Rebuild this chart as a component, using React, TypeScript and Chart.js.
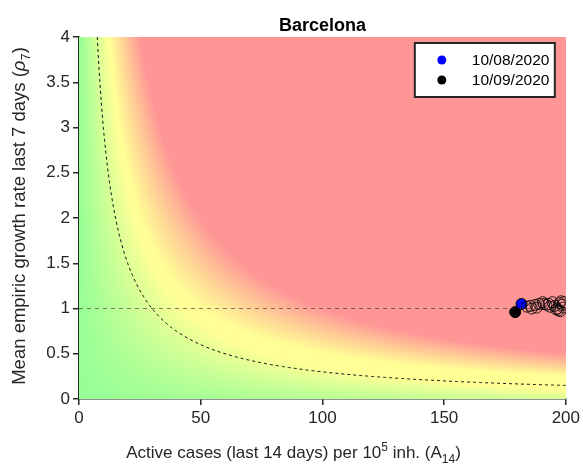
import React, { useEffect, useRef } from "react";
import { Chart, registerables } from "chart.js";

Chart.register(...registerables);

// ---- data ----
const TITLE = "Barcelona";
// axis titles as rich-text segments (n = normal, sup = superscript, sub = subscript, it = italic)
const X_TITLE: [string, string][] = [
  ["n", "Active cases (last 14 days) per 10"],
  ["sup", "5"],
  ["n", " inh. (A"],
  ["sub", "14"],
  ["n", ")"],
];
const Y_TITLE: [string, string][] = [
  ["n", "Mean empiric growth rate last 7 days ("],
  ["it", "ρ"],
  ["sub", "7"],
  ["n", ")"],
];
const X_TICKS = [0, 50, 100, 150, 200];
const Y_TICKS = [0, 0.5, 1, 1.5, 2, 2.5, 3, 3.5, 4];
const EPG_CONTOUR = 30; // dashed iso-risk curve rho*A = 30
const REF_RHO = 1;

// trajectory (open circles)
const trajA = [184, 186, 187.5, 189, 190.5, 192, 193, 194.5, 195.5, 196.5, 197, 197.5, 198, 198.5, 199, 196, 193.5, 191, 188, 185.5, 197.8, 199.2];
const trajRho = [1.02, 1.0, 1.04, 1.05, 1.07, 1.04, 1.05, 1.07, 1.03, 1.0, 0.98, 1.06, 1.08, 1.04, 1.01, 0.99, 1.02, 1.05, 1.01, 1.03, 0.97, 1.07];

const firstLabel = "10/08/2020";
const firstA = 181.8;
const firstRho = 1.05;
const lastLabel = "10/09/2020";
const lastA = 179.2;
const lastRho = 0.96;

const FONT = "'Liberation Sans', Arial, Helvetica, sans-serif";

function bgColor(A: number, rho: number): [number, number, number] {
  const p = A * Math.max(rho, 0);
  const v1 = p + 0.15 * A;
  const t1 = Math.min(1, Math.max(0, v1 / 50));
  const t2 = Math.min(1, Math.max(0, (p - 50) / 50));
  const r = 150 + 105 * t1;
  const g = 255 - 105 * t2;
  return [r, g, 150];
}

function drawRich(ctx: CanvasRenderingContext2D, segs: [string, string][], cx: number, cy: number, size: number) {
  const small = Math.round(size * 0.72);
  const fontOf = (k: string) =>
    k === "sup" || k === "sub" ? `${small}px ${FONT}` : k === "it" ? `italic ${size}px ${FONT}` : `${size}px ${FONT}`;
  let total = 0;
  const widths = segs.map(([k, t]) => {
    ctx.font = fontOf(k);
    const w = ctx.measureText(t).width;
    total += w;
    return w;
  });
  let x = cx - total / 2;
  ctx.textAlign = "left";
  ctx.textBaseline = "alphabetic";
  const base = cy + size * 0.36;
  segs.forEach(([k, t], i) => {
    ctx.font = fontOf(k);
    let y = base;
    if (k === "sup") y = base - size * 0.42;
    if (k === "sub") y = base + size * 0.28;
    ctx.fillText(t, x, y);
    x += widths[i];
  });
}

const backgroundPlugin = {
  id: "riskBackground",
  beforeDatasetsDraw(chart: any) {
    const { ctx, chartArea, scales } = chart;
    const left = Math.round(chartArea.left);
    const top = Math.round(chartArea.top);
    const w = Math.round(chartArea.right) - left;
    const h = Math.round(chartArea.bottom) - top;
    const off = document.createElement("canvas");
    off.width = w;
    off.height = h;
    const octx = off.getContext("2d")!;
    const img = octx.createImageData(w, h);
    for (let j = 0; j < h; j++) {
      const rho = scales.y.getValueForPixel(top + j + 0.5);
      for (let i = 0; i < w; i++) {
        const A = scales.x.getValueForPixel(left + i + 0.5);
        const [r, g, b] = bgColor(A, rho);
        const k = (j * w + i) * 4;
        img.data[k] = r;
        img.data[k + 1] = g;
        img.data[k + 2] = b;
        img.data[k + 3] = 255;
      }
    }
    octx.putImageData(img, 0, 0);
    ctx.save();
    ctx.drawImage(off, left, top);
    ctx.restore();
  },
};

const titleLegendPlugin = {
  id: "titleLegend",
  afterDraw(chart: any) {
    const { ctx, chartArea } = chart;
    ctx.save();
    // title
    ctx.fillStyle = "#000";
    ctx.font = `bold 18px ${FONT}`;
    ctx.textAlign = "center";
    ctx.textBaseline = "middle";
    ctx.fillText(TITLE, (chartArea.left + chartArea.right) / 2, 26);
    // axis titles
    ctx.fillStyle = "#262626";
    drawRich(ctx, X_TITLE, chart.width / 2 + 2, 452, 17);
    ctx.save();
    ctx.translate(18, (chartArea.top + chartArea.bottom) / 2 - 2);
    ctx.rotate(-Math.PI / 2);
    drawRich(ctx, Y_TITLE, 0, 0, 18.5);
    ctx.restore();
    // legend box
    const bx = chartArea.right - 151;
    const by = chartArea.top + 6;
    const bw = 140;
    const bh = 54;
    ctx.fillStyle = "#fff";
    ctx.fillRect(bx, by, bw, bh);
    ctx.strokeStyle = "#262626";
    ctx.lineWidth = 2;
    ctx.strokeRect(bx, by, bw, bh);
    const items = [
      { label: firstLabel, color: "#0000ff" },
      { label: lastLabel, color: "#000000" },
    ];
    items.forEach((it, idx) => {
      const cy = by + 17 + idx * 20;
      ctx.beginPath();
      ctx.arc(bx + 27, cy, 4.5, 0, Math.PI * 2);
      ctx.fillStyle = it.color;
      ctx.fill();
      ctx.fillStyle = "#000";
      ctx.font = `15.5px ${FONT}`;
      ctx.textAlign = "left";
      ctx.textBaseline = "middle";
      ctx.fillText(it.label, bx + 57, cy + 1);
    });
    ctx.restore();
  },
};

export default function App() {
  const ref = useRef<HTMLCanvasElement>(null);
  useEffect(() => {
    document.body.style.margin = "0";
    const curve: { x: number; y: number }[] = [];
    for (let A = EPG_CONTOUR / 4; A <= 200; A += 0.5) curve.push({ x: A, y: EPG_CONTOUR / A });
    const chart = new Chart(ref.current!, {
      type: "scatter",
      data: {
        datasets: [
          {
            type: "line",
            label: "ref",
            data: [{ x: 0, y: REF_RHO }, { x: 200, y: REF_RHO }],
            borderColor: "rgba(70,50,50,0.8)",
            borderWidth: 0.8,
            borderDash: [4, 4],
            pointRadius: 0,
          },
          {
            type: "line",
            label: "contour",
            data: curve,
            borderColor: "#111",
            borderWidth: 1,
            borderDash: [3, 3],
            pointRadius: 0,
          },
          {
            label: "trajectory",
            data: trajA.map((a, i) => ({ x: a, y: trajRho[i] })),
            pointRadius: 5.5,
            backgroundColor: "rgba(0,0,0,0)",
            borderColor: "rgba(0,0,0,0.8)",
            borderWidth: 1,
          },
          {
            label: firstLabel,
            data: [{ x: firstA, y: firstRho }],
            pointRadius: 5.5,
            backgroundColor: "#0000ff",
            borderColor: "#000",
            borderWidth: 1,
          },
          {
            label: lastLabel,
            data: [{ x: lastA, y: lastRho }],
            pointRadius: 5.5,
            backgroundColor: "#000",
            borderColor: "#000",
            borderWidth: 1,
          },
        ],
      },
      options: {
        animation: false,
        responsive: true,
        maintainAspectRatio: false,
        layout: { padding: { top: 37, right: 17, left: 0, bottom: 0 } },
        plugins: {
          legend: { display: false },
          tooltip: { enabled: false },
          title: { display: false },
        },
        scales: {
          x: {
            type: "linear",
            min: 0,
            max: 200,
            afterFit: (s: any) => {
              s.height = 70;
            },
            afterBuildTicks: (s: any) => {
              s.ticks = X_TICKS.map((v) => ({ value: v }));
            },
            ticks: { color: "#262626", font: { size: 17, family: FONT }, padding: 3, maxRotation: 0, callback: (v: any) => String(v) },
            grid: { display: true, drawOnChartArea: false, drawTicks: true, tickLength: 6, color: "#262626", lineWidth: 1.5 },
            border: { display: true, color: "#262626", width: 1.5 },
            title: { display: false },
          },
          y: {
            type: "linear",
            min: 0,
            max: 4,
            afterFit: (s: any) => {
              s.width = 79;
            },
            afterBuildTicks: (s: any) => {
              s.ticks = Y_TICKS.map((v) => ({ value: v }));
            },
            ticks: { color: "#262626", font: { size: 17, family: FONT }, padding: 3, callback: (v: any) => String(v) },
            grid: { display: true, drawOnChartArea: false, drawTicks: true, tickLength: 6, color: "#262626", lineWidth: 1.5 },
            border: { display: true, color: "#262626", width: 1.5 },
            title: { display: false },
          },
        },
      },
      plugins: [backgroundPlugin, titleLegendPlugin],
    } as any);
    return () => chart.destroy();
  }, []);
  return (
    <div style={{ position: "relative", width: 583, height: 469 }}>
      <canvas ref={ref} />
    </div>
  );
}
